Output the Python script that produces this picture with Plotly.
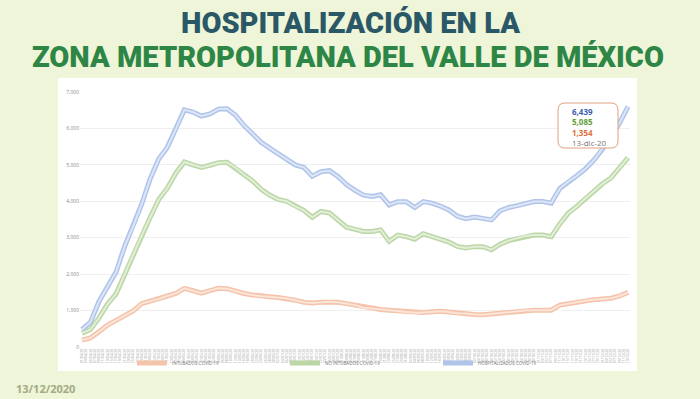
import pandas as pd
import plotly.graph_objects as go

# ---- data, one sample every 4 days, 1-abr-20 .. 13-dic-20
start_date = "2020-04-01"
step_days = 4
hospitalizados = [480, 680, 1250, 1640, 2060, 2760, 3310, 3920, 4620, 5160,
                  5480, 5980, 6510, 6450, 6340, 6400, 6530, 6540, 6360, 6080,
                  5840, 5620, 5460, 5310, 5160, 5000, 4930, 4690, 4810, 4840,
                  4680, 4460, 4300, 4170, 4130, 4180, 3900, 3990, 3990, 3830,
                  3990, 3950, 3870, 3760, 3590, 3520, 3570, 3540, 3490, 3740,
                  3830, 3880, 3930, 3995, 3995, 3950, 4350, 4545, 4700, 4890,
                  5130, 5430, 5760, 6150, 6600]
no_intubados = [380, 480, 800, 1180, 1460, 2000, 2530, 3060, 3560, 4050,
                4360, 4770, 5080, 5000, 4930, 4990, 5060, 5070, 4920, 4730,
                4560, 4330, 4170, 4050, 4000, 3860, 3750, 3560, 3720, 3680,
                3480, 3290, 3230, 3170, 3170, 3215, 2900, 3070, 3030, 2960,
                3110, 3030, 2940, 2880, 2760, 2720, 2755, 2755, 2670, 2820,
                2920, 2980, 3050, 3075, 3075, 3030, 3380, 3675, 3860, 4080,
                4290, 4480, 4640, 4920, 5200]
intubados = [190, 250, 420, 600, 730, 850, 990, 1190, 1250, 1320,
             1400, 1470, 1610, 1550, 1480, 1550, 1610, 1600, 1530, 1470,
             1430, 1390, 1380, 1360, 1330, 1285, 1230, 1210, 1230, 1240,
             1230, 1190, 1150, 1080, 1055, 1030, 1010, 990, 970, 940,
             950, 965, 980, 960, 925, 920, 890, 885, 910, 935,
             950, 970, 1000, 1010, 1010, 1010, 1150, 1195, 1225, 1270,
             1300, 1320, 1340, 1400, 1500]
series_names = ["INTUBADOS COVID-19", "NO INTUBADOS COVID-19", "HOSPITALIZADOS COVID-19"]
last_labels = ["6,439", "5,085", "1,354", "13-dic-20"]
y_ticks = [0, 1000, 2000, 3000, 4000, 5000, 6000, 7000]

dates = pd.date_range(start_date, periods=len(hospitalizados), freq=f"{step_days}D")

W, H = 700, 399
ML, MR, MT, MB = 80, 70, 92, 52
PW, PH = W - ML - MR, H - MT - MB


def px(x):
    return (x - ML) / PW


def py(y):
    return (H - MB - y) / PH


fig = go.Figure()
styles = [
    ("#f4c3aa", "#fbe4d8"),
    ("#bcd7a6", "#e2eed8"),
    ("#b0c4ea", "#dde6f7"),
]
data = [intubados, no_intubados, hospitalizados]
for name, vals, (outer, inner) in zip(series_names, data, styles):
    fig.add_trace(go.Scatter(x=dates, y=vals, mode="lines", name=name,
                             line=dict(color=outer, width=5)))
for vals, (outer, inner) in zip(data, styles):
    fig.add_trace(go.Scatter(x=dates, y=vals, mode="lines", showlegend=False,
                             hoverinfo="skip", line=dict(color=inner, width=2)))

bg = "#eef5d8"
shapes = [
    dict(type="rect", xref="paper", yref="paper", layer="below",
         x0=px(58), x1=px(637), y0=py(371), y1=py(78),
         fillcolor="white", line=dict(width=0)),
]
# rounded box for last-value callout
bx0, bx1, by0, by1, r = 558, 618, 103, 148, 7
path = (f"M {px(bx0 + r)} {py(by0)} L {px(bx1 - r)} {py(by0)} "
        f"Q {px(bx1)} {py(by0)} {px(bx1)} {py(by0 + r)} "
        f"L {px(bx1)} {py(by1 - r)} Q {px(bx1)} {py(by1)} {px(bx1 - r)} {py(by1)} "
        f"L {px(bx0 + r)} {py(by1)} Q {px(bx0)} {py(by1)} {px(bx0)} {py(by1 - r)} "
        f"L {px(bx0)} {py(by0 + r)} Q {px(bx0)} {py(by0)} {px(bx0 + r)} {py(by0)} Z")
shapes.append(dict(type="path", xref="paper", yref="paper", path=path,
                   fillcolor="white", line=dict(color="#e0a080", width=1)))

title_font = "Roboto"
annotations = [
    dict(text="HOSPITALIZACIÓN EN LA", x=px(350), y=py(23), xref="paper", yref="paper",
         showarrow=False, font=dict(family=title_font, size=29, weight=900, color="#2b5866"),
         xanchor="center", yanchor="middle"),
    dict(text="ZONA METROPOLITANA DEL VALLE DE MÉXICO", x=px(348), y=py(56.5),
         xref="paper", yref="paper", showarrow=False,
         font=dict(family=title_font, size=29, weight=900, color="#2e8646"),
         xanchor="center", yanchor="middle"),
    dict(text="<b>13/12/2020</b>", x=px(14), y=py(388), xref="paper", yref="paper",
         showarrow=False, font=dict(family="Open Sans", size=11, color="#a3aa85"),
         xanchor="left", yanchor="middle"),
]
call_colors = ["#3b5fb0", "#62a038", "#e0703a", "#777777"]
call_lines = []
for lbl, col in zip(last_labels, call_colors):
    if col != "#777777":
        call_lines.append(f"<span style='color:{col}'><b>{lbl}</b></span>")
    else:
        call_lines.append(f"<span style='color:{col}'>{lbl}</span>")
annotations.append(dict(text="<br>".join(call_lines), x=px(570), y=py(127),
                        xref="paper", yref="paper", showarrow=False,
                        xanchor="left", yanchor="middle", align="left",
                        font=dict(family="Open Sans", size=8, color="#777777")))

fig.update_layout(
    width=W, height=H,
    margin=dict(l=ML, r=MR, t=MT, b=MB),
    paper_bgcolor=bg, plot_bgcolor="white",
    shapes=shapes, annotations=annotations,
    showlegend=True,
    legend=dict(orientation="h", x=px(132), y=py(363), xanchor="left", yanchor="middle",
                font=dict(family="Open Sans", size=4.5, color="#777777"),
                entrywidth=108, entrywidthmode="pixels", itemwidth=30,
                bgcolor="rgba(0,0,0,0)"),
    font=dict(family="Open Sans"),
)
fig.update_yaxes(range=[0, 7000], tickvals=y_ticks, tickformat=",",
                 tickfont=dict(size=5, color="#888888"), gridcolor="#efefef",
                 gridwidth=0.6, zeroline=False, showline=False, ticks="", ticklen=0)
fig.update_xaxes(range=[pd.Timestamp(start_date) - pd.Timedelta(hours=22),
                        dates[-1] + pd.Timedelta(hours=22)],
                 tickmode="linear", tick0=start_date, dtick=2 * 86400000,
                 tickformat="%d/%m/%y", tickangle=-90,
                 tickfont=dict(size=3.5, color="#999999"),
                 showgrid=False, zeroline=False, showline=False, ticks="")

fig.write_html("out.html", config={"displayModeBar": False},
               post_script="document.body.style.margin='0';"
                           "document.body.style.background='#eef5d8';")
